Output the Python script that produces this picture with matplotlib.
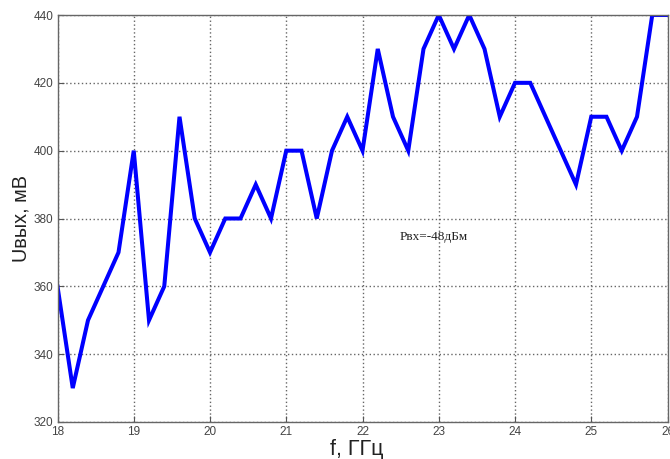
import matplotlib
matplotlib.use("Agg")
import matplotlib.pyplot as plt

freq = [18.0, 18.2, 18.4, 18.6, 18.8, 19.0, 19.2, 19.4, 19.6, 19.8,
        20.0, 20.2, 20.4, 20.6, 20.8, 21.0, 21.2, 21.4, 21.6, 21.8,
        22.0, 22.2, 22.4, 22.6, 22.8, 23.0, 23.2, 23.4, 23.6, 23.8,
        24.0, 24.2, 24.4, 24.6, 24.8, 25.0, 25.2, 25.4, 25.6, 25.8, 26.0]
u_out = [360, 330, 350, 360, 370, 400, 350, 360, 410, 380,
         370, 380, 380, 390, 380, 400, 400, 380, 400, 410,
         400, 430, 410, 400, 430, 440, 430, 440, 430, 410,
         420, 420, 410, 400, 390, 410, 410, 400, 410, 440, 440]
x_ticks = [18, 19, 20, 21, 22, 23, 24, 25, 26]
y_ticks = [320, 340, 360, 380, 400, 420, 440]
annotation = "Pвх=-48дБм"

plt.rcParams['font.family'] = ['Liberation Sans', 'DejaVu Sans']

fig = plt.figure(figsize=(6.7, 4.59), dpi=100)
ax = fig.add_axes([57.5/670, 37/459, 610/670, 407/459])

ax.plot(freq, u_out, color='#0000ff', linewidth=2.9, solid_joinstyle='miter')
ax.set_xlim(18, 26)
ax.set_ylim(320, 440)
ax.set_xticks(x_ticks)
ax.set_yticks(y_ticks)
ax.grid(True, linestyle=(0, (1.0, 1.8)), color='#666666', linewidth=1.0)
ax.tick_params(direction='in', length=4, width=0.8, colors='#555555',
               labelsize=8.5, labelcolor='#444444', pad=3)
for s in ax.spines.values():
    s.set_color('#666666')
    s.set_linewidth(1.0)

ax.set_xlabel('f, ГГц', fontsize=15.5, color='#222222')
ax.set_ylabel('Uвых, мВ', fontsize=14.3, color='#222222')
ax.xaxis.set_label_coords((357 - 57.5) / 610, -0.042)
ax.yaxis.set_label_coords((31 - 57.5) / 610, 0.5)

ax.text(22.93, 374.5, annotation, fontsize=9.5, family=['Liberation Serif', 'DejaVu Serif'],
        ha='center', va='center', color='#222222')

fig.savefig('out.png', dpi=100)
